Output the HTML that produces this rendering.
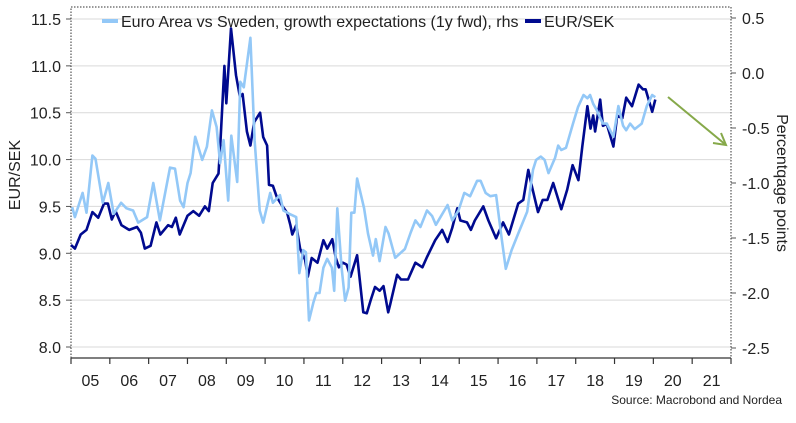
<!DOCTYPE html>
<html><head><meta charset="utf-8"><style>
body{margin:0;background:#fff;font-family:"Liberation Sans",sans-serif;}
svg text{font-family:"Liberation Sans",sans-serif;fill:#222;}
</style></head><body>
<svg id="c" width="796" height="418" viewBox="0 0 796 418"></svg>
<script>
const yearTicks=["05","06","07","08","09","10","11","12","13","14","15","16","17","18","19","20","21"];
const leftTicks=[8.0,8.5,9.0,9.5,10.0,10.5,11.0,11.5];
const rightTicks=[-2.5,-2.0,-1.5,-1.0,-0.5,0.0,0.5];
const eurDates=[2005.0,2005.1,2005.25,2005.4,2005.55,2005.7,2005.85,2005.95,2006.05,2006.15,2006.3,2006.5,2006.7,2006.8,2006.9,2007.05,2007.2,2007.3,2007.5,2007.6,2007.7,2007.8,2008.0,2008.15,2008.3,2008.45,2008.55,2008.65,2008.8,2008.85,2008.95,2009.0,2009.12,2009.25,2009.35,2009.42,2009.53,2009.62,2009.72,2009.87,2009.95,2010.05,2010.1,2010.2,2010.3,2010.45,2010.57,2010.65,2010.7,2010.8,2010.9,2011.03,2011.1,2011.2,2011.35,2011.5,2011.6,2011.73,2011.82,2011.9,2012.0,2012.1,2012.2,2012.37,2012.53,2012.62,2012.72,2012.83,2012.95,2013.05,2013.17,2013.22,2013.4,2013.5,2013.68,2013.87,2014.05,2014.17,2014.38,2014.56,2014.7,2014.82,2014.95,2015.03,2015.2,2015.3,2015.4,2015.62,2015.75,2015.95,2016.13,2016.28,2016.52,2016.65,2016.78,2016.88,2017.03,2017.15,2017.27,2017.42,2017.63,2017.78,2017.92,2018.07,2018.17,2018.3,2018.38,2018.45,2018.5,2018.63,2018.7,2018.8,2018.97,2019.07,2019.2,2019.3,2019.45,2019.62,2019.73,2019.8,2019.97,2020.05];
const eurValues=[9.09,9.05,9.2,9.25,9.44,9.38,9.53,9.53,9.36,9.45,9.3,9.25,9.28,9.22,9.05,9.08,9.33,9.2,9.3,9.28,9.38,9.2,9.4,9.45,9.4,9.5,9.45,9.75,9.85,10.2,11.0,10.6,11.4,10.9,10.67,10.7,10.3,10.15,10.4,10.5,10.24,10.15,9.73,9.72,9.6,9.5,9.43,9.3,9.2,9.3,9.05,8.93,8.75,8.95,8.9,9.14,9.05,9.15,8.95,8.85,8.9,8.88,8.75,8.98,8.37,8.36,8.5,8.64,8.6,8.65,8.37,8.45,8.77,8.72,8.72,8.9,8.85,8.96,9.14,9.25,9.12,9.27,9.48,9.35,9.33,9.25,9.35,9.5,9.35,9.16,9.33,9.2,9.53,9.57,9.89,9.7,9.44,9.57,9.57,9.75,9.47,9.68,9.94,9.78,10.14,10.57,10.33,10.47,10.3,10.64,10.36,10.38,10.14,10.47,10.44,10.66,10.57,10.8,10.75,10.75,10.51,10.64];
const gapDates=[2005.03,2005.1,2005.3,2005.4,2005.55,2005.63,2005.82,2005.96,2006.1,2006.29,2006.43,2006.6,2006.73,2006.96,2007.12,2007.29,2007.55,2007.68,2007.81,2007.9,2008.0,2008.08,2008.2,2008.38,2008.5,2008.63,2008.75,2008.84,2008.93,2009.05,2009.13,2009.28,2009.36,2009.45,2009.62,2009.73,2009.86,2009.95,2010.13,2010.2,2010.38,2010.47,2010.62,2010.8,2010.88,2010.98,2011.05,2011.13,2011.24,2011.32,2011.4,2011.5,2011.6,2011.72,2011.78,2011.86,2011.97,2012.06,2012.15,2012.22,2012.3,2012.37,2012.55,2012.65,2012.78,2012.85,2012.95,2013.1,2013.18,2013.35,2013.6,2013.75,2013.87,2014.0,2014.17,2014.3,2014.4,2014.5,2014.7,2014.82,2014.98,2015.13,2015.28,2015.46,2015.55,2015.68,2015.8,2015.95,2016.1,2016.2,2016.35,2016.52,2016.75,2016.9,2016.98,2017.1,2017.2,2017.3,2017.47,2017.55,2017.63,2017.75,2017.93,2018.06,2018.2,2018.3,2018.37,2018.45,2018.53,2018.7,2018.8,2018.97,2019.1,2019.22,2019.3,2019.4,2019.52,2019.7,2019.83,2019.97,2020.05];
const gapValues=[-1.22,-1.31,-1.09,-1.27,-0.75,-0.78,-1.18,-1.0,-1.28,-1.18,-1.23,-1.25,-1.36,-1.31,-1.0,-1.34,-0.86,-0.87,-1.16,-1.22,-1.0,-0.91,-0.58,-0.79,-0.67,-0.34,-0.49,-0.82,-0.61,-1.16,-0.57,-0.99,-0.08,-0.13,0.32,-0.61,-1.25,-1.36,-1.09,-1.18,-1.11,-1.25,-1.28,-1.31,-1.82,-1.61,-1.63,-2.25,-2.09,-2.0,-2.0,-1.77,-1.69,-1.77,-1.98,-1.23,-1.77,-2.07,-1.95,-1.27,-1.27,-0.96,-1.23,-1.46,-1.66,-1.51,-1.71,-1.4,-1.46,-1.68,-1.6,-1.45,-1.34,-1.4,-1.25,-1.3,-1.38,-1.32,-1.2,-1.34,-1.25,-1.09,-1.12,-0.98,-0.98,-1.09,-1.12,-1.11,-1.52,-1.78,-1.61,-1.46,-1.26,-0.88,-0.79,-0.76,-0.79,-0.91,-0.77,-0.66,-0.7,-0.68,-0.46,-0.31,-0.2,-0.23,-0.2,-0.28,-0.33,-0.46,-0.46,-0.58,-0.3,-0.48,-0.52,-0.46,-0.51,-0.46,-0.3,-0.2,-0.22];

const NS="http://www.w3.org/2000/svg";
const svg=document.getElementById('c');
const X0=71,X1=731,T0=2005,T1=2022,YT=7,YB=358;
const xs=t=>X0+(t-T0)/(T1-T0)*(X1-X0);
const yl=v=>19+(11.5-v)/3.5*(347-19);
const yr=v=>18+(0.5-v)/3.0*(348-18);
function el(tag,attrs,parent){const e=document.createElementNS(NS,tag);for(const k in attrs)e.setAttribute(k,attrs[k]);(parent||svg).appendChild(e);return e;}

leftTicks.forEach(v=>{
  const g=el('line',{x1:X0,x2:X1,y1:yl(v),y2:yl(v),stroke:'#d9d9d9','stroke-width':1});
  
  
  el('line',{x1:X0-5,x2:X0,y1:yl(v),y2:yl(v),stroke:'#555'});
  const t=el('text',{x:61,y:yl(v)+6,'text-anchor':'end','font-size':16});
  t.textContent=v.toFixed(1);
  
  
});
rightTicks.forEach(v=>{
  el('line',{x1:X1,x2:X1+5,y1:yr(v),y2:yr(v),stroke:'#555'});
  const t=el('text',{x:742,y:yr(v)+6,'font-size':16});
  t.textContent=(v<0?'-':'')+Math.abs(v).toFixed(1);
  
  
});
const fr=el('rect',{x:X0,y:YT,width:X1-X0,height:YB-YT,fill:'none',stroke:'#333','stroke-width':1,'stroke-dasharray':'1.5,1.5'});


el('line',{x1:X0,x2:X1,y1:YB,y2:YB,stroke:'#333','stroke-width':1.2});
for(let i=0;i<=yearTicks.length;i++){
  const x=xs(T0+i);
  el('line',{x1:x,x2:x,y1:YB,y2:YB+6,stroke:'#333','stroke-width':1.2});
  if(i<yearTicks.length){
    const t=el('text',{x:xs(T0+i+0.5),y:386,'text-anchor':'middle','font-size':16});
    t.textContent=yearTicks[i];
    
    
  }
}
function line(dates,vals,fy,color,name){
  const d=dates.map((t,i)=>(i?'L':'M')+xs(t).toFixed(1)+','+fy(vals[i]).toFixed(1)).join('');
  const p=el('path',{d:d,fill:'none',stroke:color,'stroke-width':2.6,'stroke-linejoin':'round'});
  
  
}
line(eurDates,eurValues,yl,'#000a8f','eursek-line');
line(gapDates,gapValues,yr,'#93c8f7','growth-gap-line');
const ar=el('g',{});


el('line',{x1:668,y1:97,x2:726,y2:145,stroke:'#86a94a','stroke-width':2},ar);
el('polyline',{points:'713,143 726,145 721,133',fill:'none',stroke:'#86a94a','stroke-width':2},ar);
const lg=el('g',{});


el('line',{x1:102,x2:118,y1:21,y2:21,stroke:'#93c8f7','stroke-width':4},lg);
const l1=el('text',{x:121,y:27,'font-size':16},lg);l1.textContent='Euro Area vs Sweden, growth expectations (1y fwd), rhs';


el('line',{x1:525,x2:541,y1:21,y2:21,stroke:'#000a8f','stroke-width':4},lg);
const l2=el('text',{x:544,y:27,'font-size':16},lg);l2.textContent='EUR/SEK';


const yt=el('text',{x:0,y:0,'font-size':16,'text-anchor':'middle',transform:'translate(20,175) rotate(-90)'});
yt.textContent='EUR/SEK';


const rt=el('text',{x:0,y:0,'font-size':16,'text-anchor':'middle',transform:'translate(777,183) rotate(90)'});
rt.textContent='Percentqage points';


const src=el('text',{x:782,y:404,'font-size':12,'text-anchor':'end'});
src.textContent='Source: Macrobond and Nordea';


</script>
</body></html>
